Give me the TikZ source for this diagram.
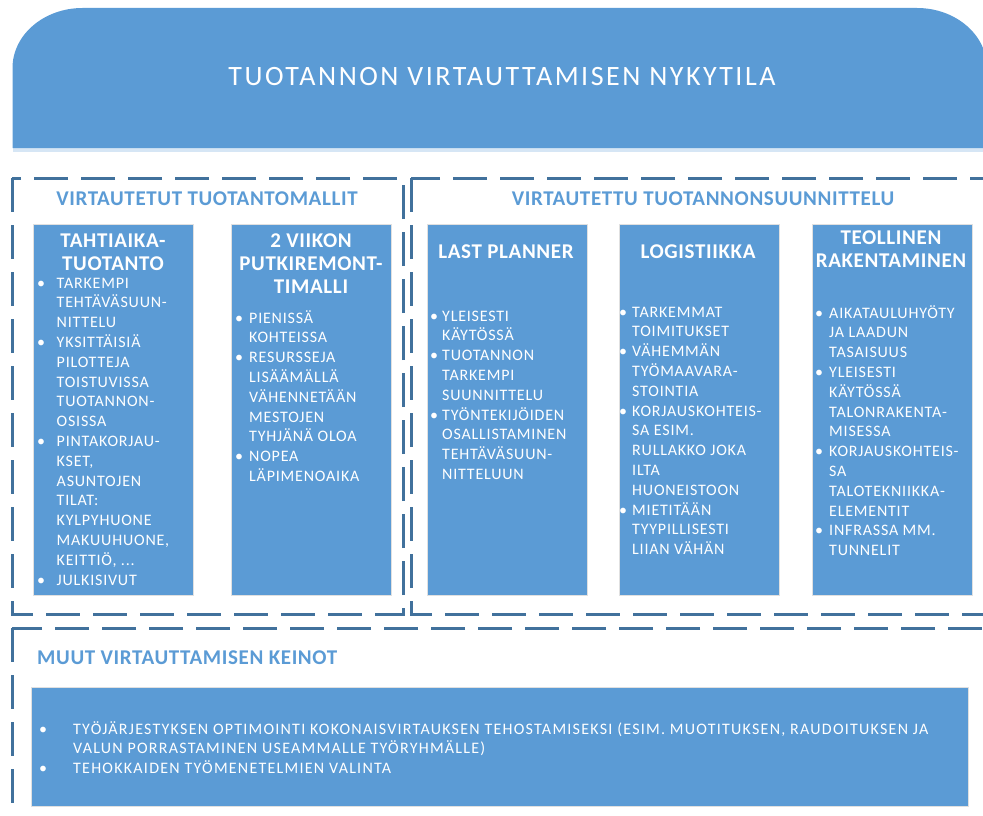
\documentclass[tikz,border=0pt]{standalone}
\usepackage{fontspec}
\setmainfont{Carlito}
\newfontfamily\spaced[LetterSpace=5]{Carlito}
\newfontfamily\wspaced[LetterSpace=7.8]{Carlito}
\newfontfamily\headfont[LetterSpace=3]{Carlito}
\newfontfamily\titlefont[LetterSpace=9]{Carlito}
\definecolor{boxblue}{HTML}{5B9BD5}
\definecolor{framec}{HTML}{41719C}
\definecolor{headc}{HTML}{5B9BD5}
\newlength{\bw}
\newcommand{\bu}{\makebox[\bw][l]{\textbullet}}
\tikzset{
  colbox/.style={fill=boxblue, draw=black!12, line width=0.8pt, anchor=north west, inner sep=0, minimum width=160pt, minimum height=371pt},
  framebox/.style={draw=framec, line width=3pt, dash pattern=on 34pt off 13pt},
  ttl/.style={anchor=base, inner sep=0, text=white, font=\fontsize{21}{23}\selectfont\headfont\bfseries},
  blist/.style={anchor=base west, inner sep=0, text=white, font=\fontsize{16}{19.8}\selectfont\spaced},
  heading/.style={inner sep=0, text=headc, font=\fontsize{21}{23}\selectfont\headfont\bfseries},
}
\begin{document}
\begin{tikzpicture}[x=1pt,y=-1pt]
\useasboundingbox (0,0) rectangle (983,816);
\clip (0,0) rectangle (983,816);
% banner
\fill[boxblue!25] (12.5,148) rectangle (987,152);
\fill[boxblue] (12.5,148) -- (12.5,68) .. controls (12.5,34.9) and (43.8,8) .. (82.5,8) -- (917,8) .. controls (955.7,8) and (987,34.9) .. (987,68) -- (987,148) -- cycle;
\node[inner sep=0, text=white, font=\fontsize{28}{30}\selectfont\titlefont, anchor=base] (title) at (502,85) {TUOTANNON VIRTAUTTAMISEN NYKYTILA};
% frames
\draw[framebox] (12,178) rectangle (403,614);
\draw[framebox] (411,178) rectangle (1000,614);
\draw[framebox] (12,628) rectangle (1000,830);
% headings
\node[heading, anchor=base] (h1) at (207,205) {VIRTAUTETUT TUOTANTOMALLIT};
\node[heading, anchor=base] (h2) at (703,205) {VIRTAUTETTU TUOTANNONSUUNNITTELU};
\node[heading, anchor=base west] (h3) at (37,664) {MUUT VIRTAUTTAMISEN KEINOT};
% column boxes
\node[colbox] (b1) at (33,224) {};
\node[colbox] (b2) at (231,224) {};
\node[colbox] (b3) at (427,224) {};
\node[colbox] (b4) at (619,224) {};
\node[colbox] (b5) at (812,224) {};
% titles
\node[ttl] (t1) at (113,247) {\begin{tabular}[t]{@{}c@{}}TAHTIAIKA-\\TUOTANTO\end{tabular}};
\node[ttl] (t2) at (311,247) {\begin{tabular}[t]{@{}c@{}}2 VIIKON\\PUTKIREMONT-\\TIMALLI\end{tabular}};
\node[ttl] (t3) at (506,258) {LAST PLANNER};
\node[ttl] (t4) at (698,258) {LOGISTIIKKA};
\node[ttl] (t5) at (891,244) {\begin{tabular}[t]{@{}c@{}}TEOLLINEN\\RAKENTAMINEN\end{tabular}};
% lists
\node[blist] (l1) at (37,288) {\setlength{\bw}{19.5pt}\begin{tabular}[t]{@{}l@{}l@{}}
\bu & TARKEMPI\\ & TEHTÄVÄSUUN-\\ & NITTELU\\
\bu & YKSITTÄISIÄ\\ & PILOTTEJA\\ & TOISTUVISSA\\ & TUOTANNON-\\ & OSISSA\\
\bu & PINTAKORJAU-\\ & KSET,\\ & ASUNTOJEN\\ & TILAT:\\ & KYLPYHUONE\\ & MAKUUHUONE,\\ & KEITTIÖ, ...\\
\bu & JULKISIVUT
\end{tabular}};
\node[blist] (l2) at (235,323) {\setlength{\bw}{14pt}\begin{tabular}[t]{@{}l@{}l@{}}
\bu & PIENISSÄ\\ & KOHTEISSA\\
\bu & RESURSSEJA\\ & LISÄÄMÄLLÄ\\ & VÄHENNETÄÄN\\ & MESTOJEN\\ & TYHJÄNÄ OLOA\\
\bu & NOPEA\\ & LÄPIMENOAIKA
\end{tabular}};
\node[blist] (l3) at (430,321) {\setlength{\bw}{12pt}\begin{tabular}[t]{@{}l@{}l@{}}
\bu & YLEISESTI\\ & KÄYTÖSSÄ\\
\bu & TUOTANNON\\ & TARKEMPI\\ & SUUNNITTELU\\
\bu & TYÖNTEKIJÖIDEN\\ & OSALLISTAMINEN\\ & TEHTÄVÄSUUN-\\ & NITTELUUN
\end{tabular}};
\node[blist] (l4) at (619,317) {\setlength{\bw}{13pt}\begin{tabular}[t]{@{}l@{}l@{}}
\bu & TARKEMMAT\\ & TOIMITUKSET\\
\bu & VÄHEMMÄN\\ & TYÖMAAVARA-\\ & STOINTIA\\
\bu & KORJAUSKOHTEIS-\\ & SA ESIM.\\ & RULLAKKO JOKA\\ & ILTA\\ & HUONEISTOON\\
\bu & MIETITÄÄN\\ & TYYPILLISESTI\\ & LIIAN VÄHÄN
\end{tabular}};
\node[blist] (l5) at (815,318) {\setlength{\bw}{14pt}\begin{tabular}[t]{@{}l@{}l@{}}
\bu & AIKATAULUHYÖTY\\ & JA LAADUN\\ & TASAISUUS\\
\bu & YLEISESTI\\ & KÄYTÖSSÄ\\ & TALONRAKENTA-\\ & MISESSA\\
\bu & KORJAUSKOHTEIS-\\ & SA\\ & TALOTEKNIIKKA-\\ & ELEMENTIT\\
\bu & INFRASSA MM.\\ & TUNNELIT
\end{tabular}};
% bottom box
\node[fill=boxblue, draw=black!12, line width=0.8pt, anchor=north west, inner sep=0, minimum width=937pt, minimum height=119pt] (b6) at (31,687) {};
\node[anchor=base west, inner sep=0, text=white, font=\fontsize{16}{19.5}\selectfont\wspaced] (l6) at (39,734) {\setlength{\bw}{34pt}\begin{tabular}[t]{@{}l@{}l@{}}
\bu & TYÖJÄRJESTYKSEN OPTIMOINTI KOKONAISVIRTAUKSEN TEHOSTAMISEKSI (ESIM. MUOTITUKSEN, RAUDOITUKSEN JA\\
 & VALUN PORRASTAMINEN USEAMMALLE TYÖRYHMÄLLE)\\
\bu & TEHOKKAIDEN TYÖMENETELMIEN VALINTA
\end{tabular}};
\end{tikzpicture}
\end{document}
